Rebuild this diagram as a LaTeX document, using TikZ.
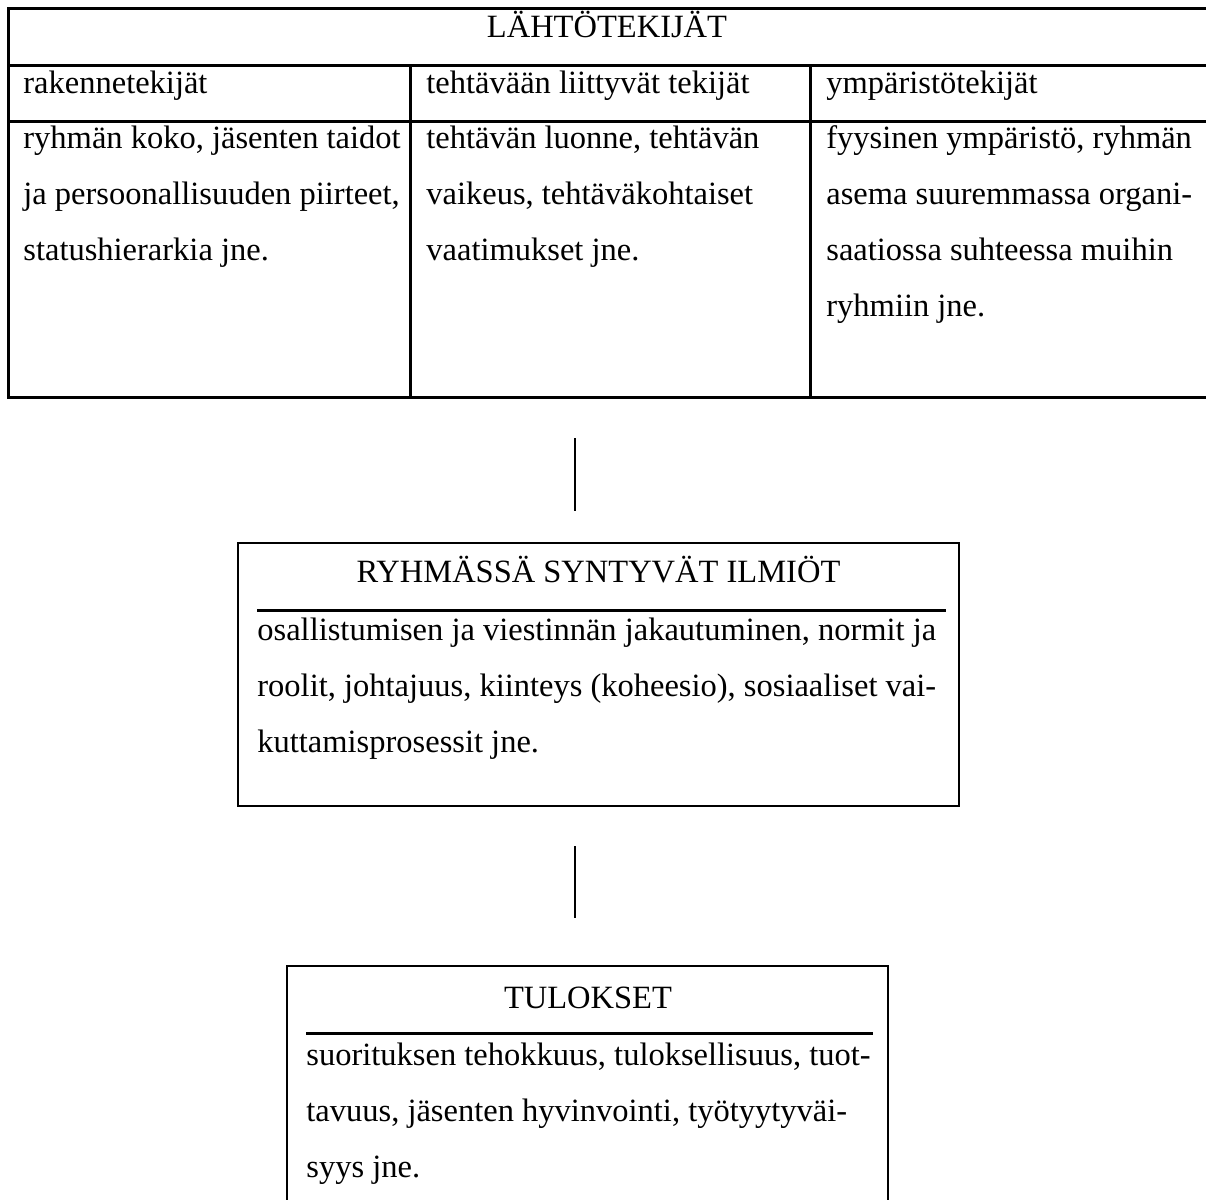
\documentclass[tikz,border=0pt]{standalone}
\usepackage{fontspec}
\setmainfont{Liberation Serif}
\usetikzlibrary{fit}

\begin{document}
\begin{tikzpicture}[x=0.5pt,y=-0.5pt,
  grid line/.style={line width=1.5pt},
  box/.style={draw,line width=0.7pt,inner sep=0pt},
  rule/.style={line width=1.5pt},
  link/.style={line width=0.65pt},
  txt/.style={anchor=base west,inner sep=0pt,align=left,font=\fontsize{16.25}{28}\selectfont},
  head/.style={anchor=base,inner sep=0pt,font=\fontsize{16.25}{28}\selectfont}]

  \useasboundingbox (0,0) rectangle (1206,1200);

  % lahtotekijat table
  \draw[grid line] (1206,8) -- (8,8) -- (8,397) -- (1206,397);
  \draw[grid line] (8,65) -- (1206,65) (8,121) -- (1206,121);
  \draw[grid line] (410,65) -- (410,397) (810,65) -- (810,397);

  \node[head] (lahto) at (607,37) {LÄHTÖTEKIJÄT};
  \node[txt] (rake) at (23,93) {rakennetekijät};
  \node[txt] (teht) at (426,93) {tehtävään liittyvät tekijät};
  \node[txt] (ymp) at (826,93) {ympäristötekijät};

  % multi-line texts: placed by the baseline of their last line
  \node[txt] (rakex) at (23,260) {ryhmän koko, jäsenten taidot\\
    ja persoonallisuuden piirteet,\\statushierarkia jne.};
  \node[txt] (tehtx) at (426,260) {tehtävän luonne, tehtävän\\
    vaikeus, tehtäväkohtaiset\\vaatimukset jne.};
  \node[txt] (ympx) at (826,316) {fyysinen ympäristö, ryhmän\\
    asema suuremmassa organi-\\saatiossa suhteessa muihin\\ryhmiin jne.};

  % ryhmassa syntyvat ilmiot
  \node[box,fit={(238,543) (959,806)}] (ilmiot) {};
  \node[head] (ilmiott) at (598.5,582) {RYHMÄSSÄ SYNTYVÄT ILMIÖT};
  \draw[rule] (257,610) -- (946,610);
  \node[txt] (ilmiotx) at (257,752) {osallistumisen ja viestinnän jakautuminen, normit ja\\
    roolit, johtajuus, kiinteys (koheesio), sosiaaliset vai-\\kuttamisprosessit jne.};

  % tulokset
  \node[box,fit={(287,966) (888,1215)}] (tulos) {};
  \node[head] (tulost) at (588,1008) {TULOKSET};
  \draw[rule] (306,1033) -- (873,1033);
  \node[txt] (tulosx) at (306,1177) {suorituksen tehokkuus, tuloksellisuus, tuot-\\
    tavuus, jäsenten hyvinvointi, työtyytyväi-\\syys jne.};

  % yhdysviivat
  \coordinate (a1) at (575,438);
  \coordinate (a2) at (575,511);
  \coordinate (b1) at (575,846);
  \coordinate (b2) at (575,918);
  \draw[link] (a1) -- (a2);
  \draw[link] (b1) -- (b2);
\end{tikzpicture}
\end{document}
